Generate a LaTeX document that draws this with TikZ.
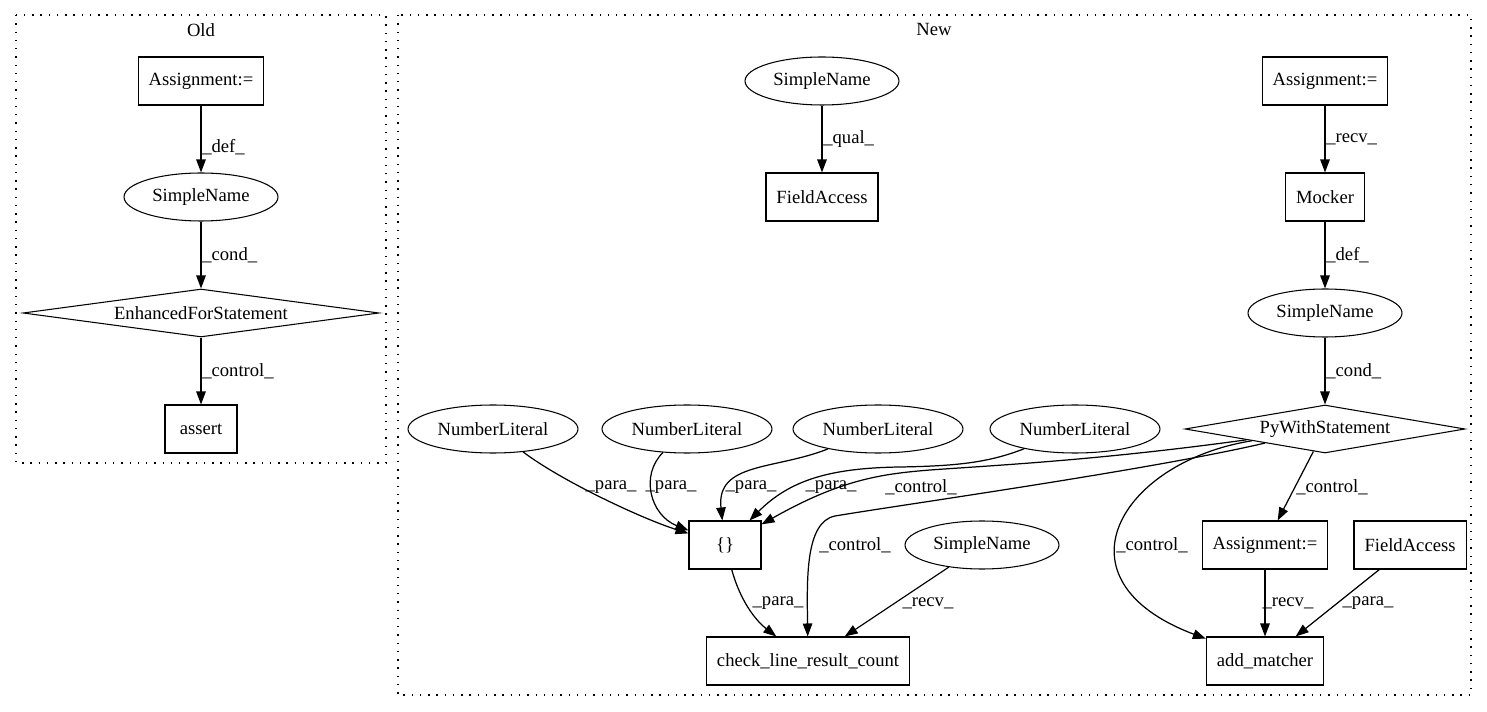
\documentclass[tikz,border=0pt]{standalone}
\usepackage{fontspec}
\setmainfont{Liberation Serif}
\usetikzlibrary{arrows.meta, shapes.geometric}

\begin{document}
\begin{tikzpicture}[x=0.02cm, y=-0.02cm, >={Triangle[length=0.26cm, width=0.19cm]},
    font=\fontsize{10.6}{12}\selectfont,
    box/.style = {rectangle, draw=black, line width=0.6pt, minimum width=1.44cm, minimum height=0.96cm, inner xsep=0.21cm, text centered},
    oval/.style = {ellipse, draw=black, line width=0.6pt, inner sep=0pt, minimum height=0.96cm},
    decision/.style = {diamond, draw=black, line width=0.6pt, inner sep=0pt, aspect=6, minimum height=0.96cm},
    edge/.style = {->, line width=0.7pt},
    lbl/.style = {inner sep=0pt},
    cluster/.style = {draw=black, line width=0.6pt, dash pattern=on 0.8pt off 3.9pt}]
    \useasboundingbox (0,0) rectangle (1487,712);

    % Clusters
    \draw [cluster] (16,15) rectangle (386,463);
    \draw [cluster] (398,15) rectangle (1471,695);
    \node (oldtitle) [lbl] at (201,30) {Old};
    \node (newtitle) [lbl] at (934,30) {New};

    % Nodes (old)
    \node (oasg) [box] at (201,81) {Assignment:=};
    \node (oname) [oval, minimum width=3.08cm] at (201,197) {SimpleName};
    \node (ofor) [decision, minimum width=7.12cm] at (201,313) {EnhancedForStatement};
    \node (oassert) [box] at (201,429) {assert};

    % Nodes (new)
    \node (nname1) [oval, minimum width=3.08cm] at (822,81) {SimpleName};
    \node (nfield1) [box] at (822,197) {FieldAccess};
    \node (nasg1) [box] at (1325,81) {Assignment:=};
    \node (nmocker) [box] at (1325,197) {Mocker};
    \node (nname2) [oval, minimum width=3.08cm] at (1325,313) {SimpleName};
    \node (nwith) [decision, minimum width=5.6cm] at (1325,429) {PyWithStatement};
    \node (num1) [oval, minimum width=3.4cm] at (493,429) {NumberLiteral};
    \node (num2) [oval, minimum width=3.4cm] at (687,429) {NumberLiteral};
    \node (num3) [oval, minimum width=3.4cm] at (878,429) {NumberLiteral};
    \node (num4) [oval, minimum width=3.4cm] at (1075,429) {NumberLiteral};
    \node (braces) [box] at (725,545) {\{\}};
    \node (nname3) [oval, minimum width=3.08cm] at (982,545) {SimpleName};
    \node (nasg2) [box] at (1265,545) {Assignment:=};
    \node (nfield2) [box] at (1410,545) {FieldAccess};
    \node (check) [box] at (808,661) {check\_line\_result\_count};
    \node (matcher) [box] at (1265,661) {add\_matcher};

    % Arrows (old)
    \draw [edge] (oasg) -- (oname);
    \draw [edge] (oname) -- (ofor);
    \draw [edge] (ofor) -- (oassert);
    \node (ldef0) [lbl, anchor=west] at (202,147) {\_def\_};
    \node (lcond0) [lbl, anchor=west] at (202,255) {\_cond\_};
    \node (lctrl0) [lbl, anchor=west] at (202,371) {\_control\_};

    % Arrows (new)
    \draw [edge] (nname1) -- (nfield1);
    \draw [edge] (nasg1) -- (nmocker);
    \draw [edge] (nmocker) -- (nname2);
    \draw [edge] (nname2) -- (nwith);
    \node (lqual) [lbl, anchor=west] at (823,139) {\_qual\_};
    \node (lrecv1) [lbl, anchor=west] at (1326,139) {\_recv\_};
    \node (ldef1) [lbl, anchor=west] at (1326,255) {\_def\_};
    \node (lcond1) [lbl, anchor=west] at (1326,371) {\_cond\_};

    \draw [edge] (num1) .. controls (560,480) and (640,518) .. (braces);
    \draw [edge] (num2) .. controls (640,475) and (650,515) .. (braces);
    \draw [edge] (num3) .. controls (775,470) and (716,462) .. (braces);
    \draw [edge] (num4) .. controls (990,462) and (960,466) .. (900,467) .. controls (830,468) and (790,480) .. (braces);
    \draw [edge] (nwith) .. controls (1100,460) and (1000,465) .. (930,470) .. controls (880,474) and (840,480) .. (braces);
    \draw [edge] (nwith) .. controls (1150,470) and (900,505) .. (835,516) .. controls (805,522) and (807,580) .. (check);
    \draw [edge] (nwith) .. controls (1120,462) and (1050,580) .. (matcher);
    \draw [edge] (nwith) -- (nasg2);
    \draw [edge] (braces) .. controls (740,600) and (755,620) .. (check);
    \draw [edge] (nname3) -- (check);
    \draw [edge] (nasg2) -- (matcher);
    \draw [edge] (nfield2) -- (matcher);

    \node (lpara1) [lbl] at (611,487) {\_para\_};
    \node (lpara2) [lbl] at (671,487) {\_para\_};
    \node (lpara3) [lbl] at (751,487) {\_para\_};
    \node (lpara4) [lbl] at (831,487) {\_para\_};
    \node (lctrl1) [lbl] at (921,487) {\_control\_};
    \node (lctrl2) [lbl] at (855,545) {\_control\_};
    \node (lctrl3) [lbl] at (1152,545) {\_control\_};
    \node (lctrl4) [lbl] at (1332,487) {\_control\_};
    \node (lpara5) [lbl] at (778,603) {\_para\_};
    \node (lrecv2) [lbl] at (928,603) {\_recv\_};
    \node (lrecv3) [lbl] at (1288,603) {\_recv\_};
    \node (lpara6) [lbl] at (1368,603) {\_para\_};
\end{tikzpicture}
\end{document}
